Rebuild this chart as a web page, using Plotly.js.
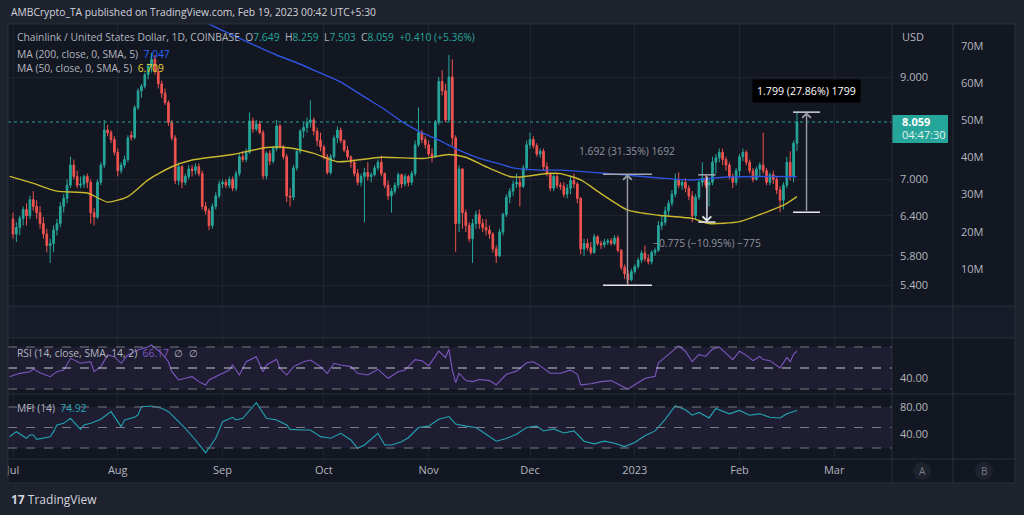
<!DOCTYPE html>
<html><head><meta charset="utf-8">
<script src="https://cdn.plot.ly/plotly-3.0.1.min.js"></script>
<style>html,body{margin:0;padding:0;background:#1e222d;overflow:hidden}#chart{width:1024px;height:515px}</style>
</head><body><div id="chart"></div>
<script>
// ---------- DATA ----------
const startDate = [2022, 6, 1]; // 1 Jul 2022, daily candles
const opens = [
6.35,6.12,6.22,6.36,6.50,6.40,6.66,6.55,6.45,6.28,
6.12,5.95,5.98,6.18,6.28,6.55,6.68,6.90,7.25,7.05,
6.90,6.92,7.05,6.95,6.45,6.38,6.95,7.25,7.90,7.85,
7.72,7.48,7.15,7.25,7.35,7.80,7.76,8.35,8.70,8.80,
9.05,9.25,9.40,9.12,8.85,8.65,8.45,8.05,7.75,6.98,
7.22,6.95,7.05,7.18,7.15,7.22,7.10,6.55,6.48,6.25,
6.55,6.72,6.92,6.95,6.90,7.00,6.85,7.10,7.40,7.35,
7.48,8.08,7.92,8.02,7.85,7.06,7.46,7.32,7.55,7.98,
7.58,7.40,6.72,6.70,7.20,7.50,7.88,7.95,8.05,8.10,
7.88,7.70,7.58,7.40,7.12,7.40,7.75,7.90,7.70,7.52,
7.40,7.30,7.10,6.95,7.05,7.12,7.05,7.08,7.20,7.30,
7.10,6.90,6.72,6.80,6.90,7.08,6.92,7.05,6.95,7.10,
7.62,7.85,7.72,7.62,7.45,7.40,8.05,8.90,8.70,8.10,
9.00,7.75,6.28,7.18,6.45,6.25,6.05,6.28,6.42,6.28,
6.22,6.18,6.12,5.90,5.80,6.15,6.42,6.70,6.80,6.92,
6.95,6.88,7.20,7.62,7.72,7.60,7.45,7.50,7.22,7.10,
6.85,7.05,6.90,6.88,6.75,6.85,6.98,6.92,6.68,5.90,
5.98,5.92,5.85,6.08,5.98,5.96,6.00,6.02,5.98,6.06,
5.88,5.64,5.55,5.47,5.58,5.65,5.74,5.84,5.76,5.72,
5.85,5.88,6.25,6.30,6.48,6.60,6.75,7.00,6.90,6.95,
6.85,6.72,6.40,6.70,6.95,7.02,6.90,6.95,7.30,7.38,
7.48,7.35,7.25,7.05,6.95,7.15,7.40,7.48,7.30,7.15,
7.00,7.18,7.25,7.15,6.95,7.08,7.00,6.82,6.65,6.90,
7.30,7.05,7.649];
const highs = [
6.45,6.30,6.40,6.55,6.60,6.72,6.80,6.65,6.55,6.38,
6.20,6.05,6.25,6.35,6.62,6.75,7.00,7.40,7.35,7.15,
7.05,7.08,7.10,7.00,6.52,7.00,7.30,8.10,8.00,7.90,
7.78,7.55,7.30,7.42,7.80,7.88,8.40,8.75,8.85,9.10,
9.30,9.55,9.50,9.20,8.92,8.75,8.50,8.10,7.80,7.30,
7.25,7.10,7.25,7.25,7.28,7.28,7.15,6.62,6.52,6.60,
6.78,6.98,7.00,7.00,7.05,7.05,7.15,7.45,7.50,7.55,
8.25,8.15,8.10,8.08,7.90,7.50,7.52,7.60,8.10,8.02,
7.62,7.45,6.85,7.25,7.55,7.92,8.05,8.15,8.50,8.15,
7.95,7.85,7.62,7.45,7.45,7.80,7.97,7.95,7.72,7.60,
7.42,7.35,7.18,7.10,7.20,7.30,7.12,7.25,7.35,7.42,
7.12,6.98,6.85,6.95,7.12,7.10,7.10,7.08,7.15,7.70,
8.35,7.90,7.78,7.70,7.55,8.10,9.00,9.15,8.85,9.50,
9.40,7.80,7.25,7.20,6.50,6.30,6.35,6.48,6.50,6.35,
6.35,6.25,6.15,5.95,6.20,6.45,6.75,6.85,6.98,7.10,
7.05,7.25,7.70,7.85,7.78,7.65,7.55,7.55,7.30,7.12,
7.10,7.10,6.95,6.95,6.92,7.05,7.10,6.95,6.70,6.05,
6.05,6.00,6.12,6.10,6.02,6.05,6.05,6.06,6.10,6.10,
5.90,5.68,5.60,5.62,5.68,5.78,5.88,5.95,5.82,5.88,
5.92,6.32,6.40,6.55,6.65,6.82,7.10,7.12,7.00,7.02,
6.90,6.80,6.75,7.00,7.30,7.08,7.00,7.40,7.45,7.55,
7.55,7.40,7.30,7.10,7.20,7.45,7.55,7.52,7.35,7.20,
7.22,7.30,7.85,7.20,7.12,7.15,7.05,6.88,6.95,7.40,
7.50,7.70,8.259];
const lows = [
6.05,6.00,6.10,6.25,6.25,6.35,6.48,6.35,6.20,6.05,
5.85,5.70,5.85,6.10,6.22,6.45,6.60,6.85,7.00,6.85,
6.85,6.85,6.85,6.28,6.25,6.35,6.90,7.20,7.78,7.65,
7.42,7.05,7.10,7.20,7.30,7.70,7.72,8.30,8.55,8.75,
8.95,9.10,9.05,8.75,8.55,8.40,7.98,7.70,6.92,6.90,
6.85,6.90,7.00,7.05,7.08,7.05,6.50,6.42,6.18,6.20,
6.50,6.68,6.85,6.85,6.85,6.80,6.80,7.05,7.30,7.30,
7.45,7.85,7.88,7.82,7.00,7.00,7.25,7.28,7.50,7.55,
7.35,6.62,6.55,6.65,7.15,7.45,7.75,7.85,7.95,7.80,
7.60,7.50,7.35,7.08,7.08,7.35,7.65,7.65,7.48,7.35,
7.20,7.05,6.90,6.88,6.30,6.98,6.95,7.05,7.15,7.05,
6.85,6.65,6.45,6.75,6.85,6.85,6.88,6.88,6.90,7.05,
7.58,7.65,7.55,7.40,7.30,7.38,8.00,8.60,8.05,8.05,
7.60,5.86,6.15,6.20,6.15,6.00,5.70,6.20,6.20,6.15,
6.10,6.05,5.85,5.70,5.78,6.10,6.38,6.60,6.72,6.85,
6.55,6.85,7.15,7.55,7.55,7.40,7.38,7.15,7.05,6.80,
6.80,6.85,6.82,6.70,6.68,6.75,6.85,6.60,5.82,5.80,
5.88,5.82,5.83,5.95,5.90,5.92,5.96,5.95,5.95,5.85,
5.60,5.48,5.397,5.45,5.55,5.62,5.70,5.72,5.68,5.68,
5.80,5.86,6.18,6.25,6.40,6.55,6.70,6.85,6.82,6.78,
6.65,6.30,6.35,6.65,6.88,6.85,6.55,6.90,7.10,7.30,
7.25,7.15,7.00,6.85,6.90,7.05,7.32,7.25,7.10,6.95,
6.98,7.05,7.10,6.90,6.90,6.92,6.75,6.457,6.50,6.85,
6.98,6.95,7.503];
const closes = [
6.12,6.22,6.36,6.50,6.40,6.66,6.55,6.45,6.28,6.12,
5.95,5.98,6.18,6.28,6.55,6.68,6.90,7.25,7.05,6.90,
6.92,7.05,6.95,6.45,6.38,6.95,7.25,7.90,7.85,7.72,
7.48,7.15,7.25,7.35,7.75,7.76,8.35,8.70,8.80,9.05,
9.25,9.40,9.12,8.85,8.65,8.45,8.05,7.75,6.98,7.22,
6.95,7.05,7.18,7.15,7.22,7.10,6.55,6.48,6.25,6.55,
6.72,6.92,6.95,6.90,7.00,6.85,7.10,7.40,7.35,7.48,
8.08,7.92,8.02,7.85,7.06,7.46,7.32,7.55,7.98,7.58,
7.40,6.72,6.70,7.20,7.50,7.88,7.95,8.05,8.10,7.88,
7.70,7.58,7.40,7.12,7.40,7.75,7.90,7.70,7.52,7.40,
7.30,7.10,6.95,7.05,7.12,7.05,7.08,7.20,7.30,7.10,
6.90,6.72,6.80,6.90,7.08,6.92,7.05,6.95,7.10,7.62,
7.85,7.72,7.62,7.45,7.40,8.05,8.90,8.70,8.10,9.00,
7.75,6.28,7.18,6.45,6.25,6.05,6.28,6.42,6.28,6.22,
6.18,6.12,5.90,5.80,6.15,6.42,6.70,6.80,6.92,6.95,
6.88,7.20,7.62,7.72,7.60,7.45,7.50,7.22,7.10,6.85,
7.05,6.90,6.88,6.75,6.85,6.98,6.92,6.68,5.90,5.98,
5.92,5.85,6.08,5.98,5.96,6.00,6.02,5.98,6.06,5.88,
5.64,5.55,5.47,5.58,5.65,5.74,5.84,5.76,5.72,5.85,
5.88,6.25,6.30,6.48,6.60,6.75,7.00,6.90,6.95,6.85,
6.72,6.40,6.70,6.95,7.02,6.90,6.95,7.30,7.38,7.48,
7.35,7.25,7.05,6.95,7.15,7.40,7.48,7.30,7.15,7.00,
7.18,7.25,7.15,6.95,7.08,7.00,6.82,6.65,6.90,7.30,
7.05,7.649,8.059];

const ma200Dates = ['2022-06-29','2022-07-31','2022-08-28','2022-09-08','2022-09-17','2022-09-23','2022-09-29','2022-10-06','2022-10-13','2022-10-19','2022-10-24','2022-10-29','2022-11-04','2022-11-10','2022-11-16','2022-11-22','2022-11-26','2022-12-04','2022-12-10','2022-12-22','2022-12-30','2023-01-09','2023-01-18','2023-01-28','2023-02-07','2023-02-18'];
const ma200Values = [12.9,11.49,10.25,9.82,9.50,9.32,9.12,8.89,8.57,8.31,8.07,7.88,7.71,7.52,7.37,7.27,7.20,7.16,7.16,7.11,7.07,7.02,6.99,7.04,7.05,7.047];

const ma50Dates = ['2022-06-30','2022-07-07','2022-07-14','2022-07-23','2022-07-29','2022-08-04','2022-08-10','2022-08-17','2022-08-23','2022-09-04','2022-09-14','2022-09-21','2022-09-28','2022-10-05','2022-10-18','2022-10-31','2022-11-07','2022-11-12','2022-11-18','2022-11-25','2022-11-28','2022-12-06','2022-12-10','2022-12-16','2022-12-22','2022-12-30','2023-01-08','2023-01-18','2023-01-23','2023-02-01','2023-02-09','2023-02-15','2023-02-18'];
const ma50Values = [7.05,6.93,6.80,6.77,6.62,6.71,6.99,7.22,7.34,7.44,7.57,7.56,7.46,7.31,7.39,7.37,7.44,7.39,7.22,7.05,7.04,7.10,7.10,6.99,6.76,6.49,6.41,6.36,6.28,6.31,6.46,6.60,6.709];

const rsiDates = ['2022-06-30','2022-07-03','2022-07-06','2022-07-07','2022-07-09','2022-07-12','2022-07-14','2022-07-16','2022-07-18','2022-07-20','2022-07-21','2022-07-24','2022-07-25','2022-07-27','2022-07-29','2022-07-31','2022-08-02','2022-08-04','2022-08-07','2022-08-10','2022-08-11','2022-08-14','2022-08-16','2022-08-17','2022-08-19','2022-08-21','2022-08-23','2022-08-25','2022-08-27','2022-08-28','2022-08-31','2022-09-03','2022-09-04','2022-09-06','2022-09-08','2022-09-11','2022-09-13','2022-09-14','2022-09-17','2022-09-18','2022-09-20','2022-09-22','2022-09-25','2022-09-27','2022-09-30','2022-10-02','2022-10-04','2022-10-06','2022-10-09','2022-10-11','2022-10-14','2022-10-17','2022-10-20','2022-10-23','2022-10-25','2022-10-28','2022-10-30','2022-11-01','2022-11-04','2022-11-06','2022-11-07','2022-11-08','2022-11-09','2022-11-10','2022-11-12','2022-11-14','2022-11-16','2022-11-19','2022-11-21','2022-11-24','2022-11-27','2022-11-30','2022-12-02','2022-12-04','2022-12-07','2022-12-10','2022-12-13','2022-12-15','2022-12-16','2022-12-19','2022-12-22','2022-12-25','2022-12-28','2022-12-30','2023-01-01','2023-01-04','2023-01-07','2023-01-08','2023-01-11','2023-01-14','2023-01-16','2023-01-18','2023-01-20','2023-01-22','2023-01-24','2023-01-26','2023-01-29','2023-01-30','2023-02-01','2023-02-03','2023-02-05','2023-02-07','2023-02-08','2023-02-10','2023-02-13','2023-02-15','2023-02-16','2023-02-17','2023-02-18'];
const rsiValues = [41.7,44.9,46.5,49.0,45.5,41.7,46.5,48.1,59.2,56.0,54.6,56.0,46.5,51.3,62.4,60.8,54.5,62.4,67.1,70.3,71.9,64.0,56.0,46.5,38.6,40.2,41.7,37.0,33.8,38.6,43.3,48.1,52.9,43.3,56.0,60.8,46.5,52.9,58.3,49.7,43.3,51.3,56.0,57.6,51.3,44.9,54.5,52.9,51.3,44.9,43.3,48.7,40.2,46.5,48,58,57,52,66,60,68,48,36,45,38,37,39,38,34,44,47,55,56,52,45,45,48,44,34,35,37,38,33,30,34,40,42,55,63,71,66,56,63,61,68,70,61,58,66,62,57,61,58,57,50,60,56,63,66.17];

const mfiDates = ['2022-06-30','2022-07-02','2022-07-05','2022-07-06','2022-07-07','2022-07-08','2022-07-12','2022-07-13','2022-07-14','2022-07-16','2022-07-18','2022-07-21','2022-07-22','2022-07-24','2022-07-27','2022-07-30','2022-08-02','2022-08-03','2022-08-06','2022-08-07','2022-08-08','2022-08-11','2022-08-14','2022-08-16','2022-08-19','2022-08-21','2022-08-24','2022-08-27','2022-08-30','2022-09-01','2022-09-04','2022-09-05','2022-09-07','2022-09-11','2022-09-14','2022-09-17','2022-09-20','2022-09-21','2022-09-25','2022-09-27','2022-09-30','2022-10-03','2022-10-06','2022-10-09','2022-10-11','2022-10-13','2022-10-17','2022-10-19','2022-10-21','2022-10-24','2022-10-26','2022-10-29','2022-11-01','2022-11-04','2022-11-07','2022-11-09','2022-11-12','2022-11-15','2022-11-18','2022-11-21','2022-11-24','2022-11-27','2022-11-30','2022-12-03','2022-12-05','2022-12-08','2022-12-11','2022-12-14','2022-12-17','2022-12-20','2022-12-23','2022-12-26','2022-12-29','2023-01-01','2023-01-04','2023-01-07','2023-01-10','2023-01-13','2023-01-16','2023-01-18','2023-01-20','2023-01-23','2023-01-25','2023-01-27','2023-01-29','2023-02-01','2023-02-04','2023-02-07','2023-02-10','2023-02-13','2023-02-15','2023-02-18'];
const mfiValues = [36.5,43.9,34.2,39,39,32.7,36.5,43.9,53.7,56.1,63.5,47.3,53.7,56.1,62.0,73.2,51.2,61.0,65.0,68.3,80.5,81.5,78.1,73.2,58.5,48.8,31.7,13.1,34.2,58.5,64.9,61.0,63.5,86.3,63.5,61.0,53.7,47.3,46.3,46.3,36.6,34.2,41.5,31.7,19.5,24.4,41.5,24.4,24.4,29.2,35,50,52,62,66,55,52,50,40,30,34,40,50,52,45,48,42,45,30,26,30,27,22,28,38,45,62,82,76,68,72,64,78,74,70,75,68,70,65,64,70,74.92];

const monthTicks = ['2022-07-01','2022-08-01','2022-09-01','2022-10-01','2022-11-01','2022-12-01','2023-01-01','2023-02-01','2023-03-01'];
const monthLabels = ['Jul','Aug','Sep','Oct','Nov','Dec','2023','Feb','Mar'];
const priceTicks = [5.4, 5.8, 6.4, 7, 9];
const volumeTicks = [10e6, 20e6, 30e6, 40e6, 50e6, 60e6, 70e6];
const volumeLabels = ['10M','20M','30M','40M','50M','60M','70M'];
const rsiTicks = [40];
const rsiBands = [70, 50, 30];
const mfiTicks = [40, 80];
const mfiBands = [80, 50, 20];
const measures = [
  {from: 5.397, to: 7.089, start: '2022-12-22 14:00', end: '2023-01-06 02:00'},
  {from: 7.078, to: 6.303, start: '2023-01-19 19:00', end: '2023-01-24 22:00'},
  {from: 6.457, to: 8.256, start: '2023-02-16 20:00', end: '2023-02-24 20:00'}
];

// ---------- LAYOUT HELPERS ----------
const W = 1024, H = 515;
const px = x => x / W, py = y => 1 - y / H;
const L = 8, R = 892, VOLX = 953, FR = 1015, TOP = 24, PB = 306, RT = 338, RB = 393, MT = 395, MB = 459, TB = 483;
const PMIN = 5.129, PMAX = 10.251;
const K = (PB - TOP) / (Math.log10(PMAX) - Math.log10(PMIN));
const XR = ['2022-06-29 12:28', '2023-03-18 03:00'];
const FONT = 'Open Sans, Noto Sans, sans-serif';
const TS = 10.3; // size of overlay texts
const TXT = '#b2b5be', GRID = '#1f2330', BORDER = '#2a2e39';
const UP = '#26a69a', DOWN = '#ef5350';

const dates = opens.map((_, i) => new Date(Date.UTC(startDate[0], startDate[1], startDate[2]) + i * 864e5).toISOString().slice(0, 10));
const toMs = s => Date.parse(s.replace(' ', 'T') + ':00Z');
const msToStr = ms => new Date(ms).toISOString().slice(0, 19).replace('T', ' ');

const traces = [
  {type: 'candlestick', x: dates, open: opens, high: highs, low: lows, close: closes, xaxis: 'x', yaxis: 'y',
   increasing: {line: {color: UP, width: 1}, fillcolor: UP}, decreasing: {line: {color: DOWN, width: 1}, fillcolor: DOWN},
   whiskerwidth: 0, hoverinfo: 'skip', showlegend: false},
  {type: 'scatter', mode: 'lines', x: ma200Dates, y: ma200Values, xaxis: 'x', yaxis: 'y', line: {color: '#2f54e0', width: 1.4, shape: 'spline', smoothing: 0.6}, hoverinfo: 'skip', showlegend: false},
  {type: 'scatter', mode: 'lines', x: ma50Dates, y: ma50Values, xaxis: 'x', yaxis: 'y', line: {color: '#c8b82e', width: 1.4, shape: 'spline', smoothing: 0.6}, hoverinfo: 'skip', showlegend: false},
  {type: 'scatter', mode: 'lines', x: [], y: [], xaxis: 'x', yaxis: 'y2', hoverinfo: 'skip', showlegend: false},
  {type: 'scatter', mode: 'lines', x: rsiDates, y: rsiValues, xaxis: 'x2', yaxis: 'y3', line: {color: '#7e57c2', width: 1.1}, hoverinfo: 'skip', showlegend: false},
  {type: 'scatter', mode: 'lines', x: mfiDates, y: mfiValues, xaxis: 'x3', yaxis: 'y4', line: {color: '#22a4b2', width: 1.1}, hoverinfo: 'skip', showlegend: false},
  {type: 'scatter', mode: 'lines', x: [], y: [], xaxis: 'x4', yaxis: 'y5', hoverinfo: 'skip', showlegend: false}
];

const xBase = (anchor, labels) => ({
  type: 'date', range: XR, domain: [px(L), px(R)], anchor: anchor,
  tickmode: 'array', tickvals: monthTicks, ticktext: monthLabels,
  showticklabels: labels, ticks: '', showgrid: true, gridcolor: GRID, gridwidth: 1,
  zeroline: false, showline: false, fixedrange: true, rangeslider: {visible: false},
  tickfont: {family: FONT, size: 11, color: TXT}, ticklabelstandoff: 3
});
const yRight = (extra) => Object.assign({side: 'right', ticks: '', zeroline: false, showline: false, fixedrange: true,
  tickfont: {family: FONT, size: 11, color: TXT}, ticklabelstandoff: 7}, extra);

const layout = {
  width: W, height: H, margin: {l: 0, r: 0, t: 0, b: 0}, autosize: false,
  paper_bgcolor: '#1e222d', plot_bgcolor: '#131722', showlegend: false, dragmode: false,
  font: {family: FONT, color: TXT, size: 11},
  xaxis: xBase('y', false),
  xaxis2: xBase('y3', false),
  xaxis3: xBase('y4', true),
  xaxis4: xBase('y5', false),
  yaxis: yRight({type: 'log', domain: [py(PB), py(TOP)], range: [Math.log10(PMIN), Math.log10(PMAX)],
    tickmode: 'array', tickvals: priceTicks, ticktext: priceTicks.map(v => v.toFixed(3)), showgrid: true, gridcolor: GRID, anchor: 'x'}),
  yaxis2: yRight({overlaying: 'y', anchor: 'free', position: px(VOLX), range: [0, 75.9e6],
    tickmode: 'array', tickvals: volumeTicks, ticktext: volumeLabels, showgrid: false}),
  yaxis3: yRight({domain: [py(RB), py(RT)], range: [26.19, 78.57], tickmode: 'array', tickvals: rsiTicks, ticktext: rsiTicks.map(v => v.toFixed(2)), showgrid: false, anchor: 'x2'}),
  yaxis4: yRight({domain: [py(MB), py(MT)], range: [3.9, 97.56], tickmode: 'array', tickvals: mfiTicks, ticktext: mfiTicks.map(v => v.toFixed(2)), showgrid: false, anchor: 'x3'}),
  yaxis5: yRight({domain: [py(RT), py(PB)], range: [0, 1], showticklabels: false, showgrid: false, anchor: 'x4'}),
  shapes: [], annotations: []
};

const S = layout.shapes, A = layout.annotations;
const rectP = (x0, y0, x1, y1, fill, layer) => S.push({type: 'rect', xref: 'paper', yref: 'paper', x0: px(x0), x1: px(x1), y0: py(y1), y1: py(y0), fillcolor: fill, line: {width: 0}, layer: layer || 'below'});
const lineP = (x0, y0, x1, y1, color) => S.push({type: 'line', xref: 'paper', yref: 'paper', x0: px(x0), x1: px(x1), y0: py(y0), y1: py(y1), line: {color: color, width: 1}, layer: 'above'});

// backgrounds
rectP(L, TOP, FR, TB, '#131722');
rectP(L, PB, FR, RT, '#181c28');
// indicator bands
S.push({type: 'rect', xref: 'x2 domain', yref: 'y3', x0: 0, x1: 1, y0: rsiBands[2], y1: rsiBands[0], fillcolor: 'rgba(126,87,194,0.10)', line: {width: 0}, layer: 'below'});
S.push({type: 'rect', xref: 'x3 domain', yref: 'y4', x0: 0, x1: 1, y0: mfiBands[2], y1: mfiBands[0], fillcolor: 'rgba(126,87,194,0.10)', line: {width: 0}, layer: 'below'});
rsiBands.forEach((v, i) => S.push({type: 'line', xref: 'x2 domain', yref: 'y3', x0: 0, x1: 1, y0: v, y1: v, line: {color: i === 1 ? '#c9cbd1' : '#787b86', width: 1, dash: 'dash'}, layer: 'above'}));
mfiBands.forEach((v) => S.push({type: 'line', xref: 'x3 domain', yref: 'y4', x0: 0, x1: 1, y0: v, y1: v, line: {color: '#787b86', width: 1, dash: 'dash'}, layer: 'above'}));

// current price line
const n = closes.length - 1;
const last = closes[n];
S.push({type: 'line', xref: 'x domain', yref: 'y', x0: 0, x1: 1, y0: last, y1: last, line: {color: UP, width: 1, dash: 'dot'}, layer: 'above'});

// measurement tools
const fmtSigned = v => (v < 0 ? '\u2212' : '') + Math.abs(v).toFixed(3);
measures.forEach((m, i) => {
  const diff = m.to - m.from;
  const pct = diff / m.from * 100;
  const mid = msToStr((toMs(m.start) + toMs(m.end)) / 2);
  const hi = Math.max(m.from, m.to), lo = Math.min(m.from, m.to);
  S.push({type: 'line', xref: 'x', yref: 'y', x0: m.start, x1: m.end, y0: hi, y1: hi, line: {color: i === 2 ? '#d1d4dc' : '#a3a6af', width: 1.5}, layer: 'above'});
  S.push({type: 'line', xref: 'x', yref: 'y', x0: m.start, x1: m.end, y0: lo, y1: lo, line: {color: '#e6e8ee', width: 1.5}, layer: 'above'});
  A.push({xref: 'x', yref: 'y', axref: 'x', ayref: 'y', x: mid, y: Math.log10(m.to), ax: mid, ay: Math.log10(m.from), text: '', showarrow: true,
    arrowhead: 4, arrowsize: 1.2, arrowwidth: 1.4, arrowcolor: i === 1 ? '#e6e8ee' : '#9a9da6', standoff: 0, startstandoff: 0});
  const label = fmtSigned(diff) + ' (' + (pct < 0 ? '\u2212' : '') + Math.abs(pct).toFixed(2) + '%) ' + (diff < 0 ? '\u2212' : '') + Math.round(Math.abs(diff) * 1000);
  if (i === 2) {
    A.push({xref: 'x', yref: 'y', x: mid, y: Math.log10(hi), yanchor: 'bottom', xanchor: 'center', yshift: 9, text: label, showarrow: false,
      font: {family: FONT, size: 10.6, color: '#ffffff'}, bgcolor: '#000000', borderpad: 4});
  } else if (diff > 0) {
    A.push({xref: 'x', yref: 'y', x: mid, y: Math.log10(hi), yanchor: 'bottom', xanchor: 'center', yshift: 14, text: label, showarrow: false, font: {family: FONT, size: TS, color: '#8f939d'}});
  } else {
    A.push({xref: 'x', yref: 'y', x: mid, y: Math.log10(lo), yanchor: 'top', xanchor: 'center', yshift: -12, text: label, showarrow: false, font: {family: FONT, size: TS, color: '#8f939d'}});
  }
});

// price tag on scale
const lg = Math.log10(last);
S.push({type: 'rect', xref: 'paper', yref: 'y', x0: px(R), x1: px(948), y0: Math.pow(10, lg - 21 / K), y1: Math.pow(10, lg + 7 / K), fillcolor: UP, line: {width: 0}, layer: 'above'});
A.push({xref: 'paper', yref: 'y', x: px(900), y: lg, xanchor: 'left', yanchor: 'middle', text: '<b>' + last.toFixed(3) + '</b>', showarrow: false, font: {family: FONT, size: 11, color: '#ffffff'}});
A.push({xref: 'paper', yref: 'y', x: px(900), y: lg, yshift: -13, xanchor: 'left', yanchor: 'middle', text: '04:47:30', showarrow: false, font: {family: FONT, size: 11, color: '#e3f2ef'}});

// frame lines
rectP(0, MB, L - 0.5, TB, '#1e222d', 'above');
lineP(L, TOP, FR, TOP, BORDER); lineP(L, TB, FR, TB, BORDER);
lineP(L, TOP, L, TB, BORDER); lineP(FR, TOP, FR, TB, BORDER);
lineP(R, TOP, R, TB, BORDER); lineP(VOLX, TOP, VOLX, TB, BORDER);
lineP(L, PB, FR, PB, BORDER); lineP(L, RT, FR, RT, BORDER);
lineP(L, 394, FR, 394, BORDER); lineP(L, MB, FR, MB, BORDER);

// A / B buttons
[[922, 'A'], [984, 'B']].forEach(([cx, t]) => {
  S.push({type: 'circle', xref: 'paper', yref: 'paper', x0: px(cx - 9), x1: px(cx + 9), y0: py(480), y1: py(462), fillcolor: '#1e222d', line: {width: 0}, layer: 'above'});
  A.push({xref: 'paper', yref: 'paper', x: px(cx), y: py(471), text: t, showarrow: false, xanchor: 'center', yanchor: 'middle', font: {family: FONT, size: 10, color: '#787b86'}});
});

// texts
const sp = '\u00a0';
const teal = v => '<span style="color:#26a69a">' + v + '</span>';
const chg = last - closes[n - 1];
A.push({xref: 'paper', yref: 'paper', x: px(9), y: py(12), xanchor: 'left', yanchor: 'middle', showarrow: false,
  text: 'AMBCrypto_TA published on TradingView.com, Feb 19, 2023 00:42 UTC+5:30', font: {family: FONT, size: TS, color: '#d1d4dc'}});
A.push({xref: 'paper', yref: 'paper', x: px(15), y: py(37), xanchor: 'left', yanchor: 'middle', showarrow: false, font: {family: FONT, size: TS, color: TXT},
  text: 'Chainlink / United States Dollar, 1D, COINBASE' + sp + sp + 'O' + teal(opens[n].toFixed(3)) + sp + sp + 'H' + teal(highs[n].toFixed(3)) + sp + sp + 'L' + teal(lows[n].toFixed(3)) + sp + sp + 'C' + teal(last.toFixed(3)) + sp + sp + teal('+' + chg.toFixed(3) + ' (+' + (chg / closes[n - 1] * 100).toFixed(2) + '%)')});
A.push({xref: 'paper', yref: 'paper', x: px(15), y: py(54), xanchor: 'left', yanchor: 'middle', showarrow: false, font: {family: FONT, size: TS, color: TXT},
  text: 'MA (200, close, 0, SMA, 5)' + sp + sp + '<span style="color:#2962ff">' + ma200Values[ma200Values.length - 1].toFixed(3) + '</span>'});
A.push({xref: 'paper', yref: 'paper', x: px(15), y: py(68), xanchor: 'left', yanchor: 'middle', showarrow: false, font: {family: FONT, size: TS, color: TXT},
  text: 'MA (50, close, 0, SMA, 5)' + sp + sp + '<span style="color:#e8d33a">' + ma50Values[ma50Values.length - 1].toFixed(3) + '</span>'});
A.push({xref: 'paper', yref: 'paper', x: px(15), y: py(353), xanchor: 'left', yanchor: 'middle', showarrow: false, font: {family: FONT, size: TS, color: TXT},
  text: 'RSI (14, close, SMA, 14, 2)' + sp + sp + '<span style="color:#7e57c2">' + rsiValues[rsiValues.length - 1].toFixed(2) + '</span>' + sp + sp + '\u2205' + sp + sp + '\u2205'});
A.push({xref: 'paper', yref: 'paper', x: px(15), y: py(408), xanchor: 'left', yanchor: 'middle', showarrow: false, font: {family: FONT, size: TS, color: TXT},
  text: 'MFI (14)' + sp + sp + '<span style="color:#22a4b2">' + mfiValues[mfiValues.length - 1].toFixed(2) + '</span>'});
A.push({xref: 'paper', yref: 'paper', x: px(900), y: py(36), xanchor: 'left', yanchor: 'middle', showarrow: false, text: 'USD', font: {family: FONT, size: 11, color: TXT}});
A.push({xref: 'paper', yref: 'paper', x: px(9), y: py(499), xanchor: 'left', yanchor: 'middle', showarrow: false,
  text: '<b>17</b>' + sp + 'TradingView', font: {family: FONT, size: 12, color: '#d1d4dc'}});

Plotly.newPlot('chart', traces, layout, {staticPlot: true, displayModeBar: false});
</script></body></html>
